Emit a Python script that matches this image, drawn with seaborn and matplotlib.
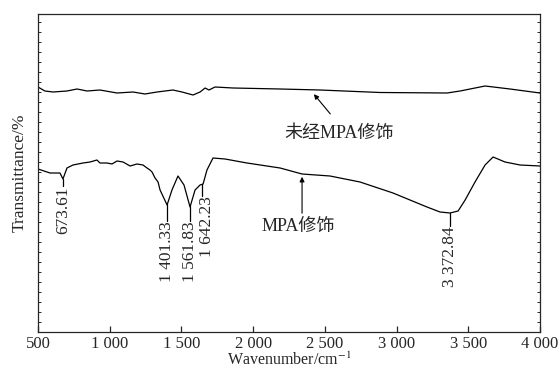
import numpy as np
import pandas as pd
import seaborn as sns
import matplotlib.pyplot as plt
from matplotlib.ticker import MultipleLocator

# FTIR spectra (wavenumber cm-1, transmittance in arbitrary units)
raw_wn = [500, 548, 605, 702, 772, 842, 932, 1051, 1162, 1246, 1330, 1441, 1504, 1581, 1630,
          1665, 1692, 1734, 1860, 2188, 2466, 2885, 3352, 3443, 3617, 3791, 4000]
raw_t = [24.5, 24.1, 24.0, 24.1, 24.3, 24.1, 24.2, 23.9, 24.0, 23.8, 24.0, 24.2, 24.0, 23.7, 24.0,
         24.4, 24.2, 24.5, 24.4, 24.3, 24.2, 23.95, 23.9, 24.1, 24.6, 24.3, 23.9]

mpa_wn = [500, 584, 653, 674, 702, 744, 814, 863, 911, 932, 981, 1016, 1051, 1093, 1142, 1190,
          1232, 1260, 1281, 1295, 1316, 1337, 1351, 1400, 1434, 1476, 1518, 1560, 1595, 1630,
          1651, 1678, 1720, 1804, 1957, 2188, 2341, 2536, 2745, 2975, 3212, 3303, 3373, 3429,
          3478, 3547, 3617, 3673, 3756, 3861, 4000]
mpa_t = [16.3, 15.9, 15.9, 15.3, 16.4, 16.7, 16.9, 17.0, 17.2, 16.9, 16.9, 16.8, 17.1, 17.0,
         16.6, 16.8, 16.7, 16.4, 16.2, 16.0, 15.4, 15.0, 14.2, 12.7, 14.2, 15.6, 14.7, 12.5,
         14.2, 14.7, 14.8, 16.2, 17.4, 17.3, 16.9, 16.4, 15.8, 15.6, 15.0, 13.9, 12.5, 12.0,
         11.9, 12.1, 13.2, 15.0, 16.7, 17.5, 17.0, 16.7, 16.6]

peak_wn = [673.61, 1401.33, 1561.83, 1642.23, 3372.84]
peak_text = ['673.61', '1 401.33', '1 561.83', '1 642.23', '3 372.84']
peak_text_top = [14.6, 11.1, 11.1, 13.6, 10.6]

xticks = [500, 1000, 1500, 2000, 2500, 3000, 3500, 4000]
xtick_labels = ['500', '1 000', '1 500', '2 000', '2 500', '3 000', '3 500', '4 000']

df = pd.concat([
    pd.DataFrame({'wn': raw_wn, 't': raw_t, 's': 'raw'}),
    pd.DataFrame({'wn': mpa_wn, 't': mpa_t, 's': 'mpa'}),
])

sns.set_style('ticks')
plt.rcParams['font.family'] = ['Liberation Serif', 'Noto Sans CJK SC']
plt.rcParams['mathtext.fontset'] = 'stix'

fig = plt.figure(figsize=(5.6, 3.72), dpi=100)
ax = fig.add_axes([38/560, 1-332/372, 502/560, 318/372])

sns.lineplot(data=df, x='wn', y='t', units='s', estimator=None, sort=False,
             color='black', lw=0.9, ax=ax, legend=False)

ax.set_xlim(500, 4000)
ax.set_ylim(0, 31.8)

for w, lab, top in zip(peak_wn, peak_text, peak_text_top):
    yc = np.interp(w, mpa_wn, mpa_t)
    ax.plot([w, w], [yc, top], color='black', lw=0.9)
    dx = 35 if lab == '1 642.23' else 0
    ax.text(w + dx, top, lab, rotation=90, ha='center', va='top', fontsize=12.5)

ax.annotate('', xy=(2411, 24.0), xytext=(2550, 21.6),
            arrowprops=dict(arrowstyle='-|>', color='black', lw=0.8, mutation_scale=7))
ax.text(2602, 19.9, '未经MPA修饰', ha='center', va='center', fontsize=13)

ax.annotate('', xy=(2341, 15.8), xytext=(2341, 11.6),
            arrowprops=dict(arrowstyle='-|>', color='black', lw=0.8, mutation_scale=7))
ax.text(2313, 10.6, 'MPA修饰', ha='center', va='center', fontsize=13)

ax.set_xticks(xticks)
ax.set_xticklabels(xtick_labels, fontsize=12)
ax.yaxis.set_major_locator(MultipleLocator(1))
ax.set_yticklabels([])
ax.tick_params(axis='x', direction='in', length=4, width=0.9, pad=3)
ax.tick_params(axis='y', direction='in', length=2, width=0.7, left=True, right=True)

for sp in ax.spines.values():
    sp.set_linewidth(0.9)
    sp.set_visible(True)

ax.set_xlabel('Wavenumber/cm$^{-1}$', fontsize=11.5, labelpad=0)
ax.set_ylabel('Transmittance/%', fontsize=12.5, labelpad=4)

fig.savefig('out.png', dpi=100)
